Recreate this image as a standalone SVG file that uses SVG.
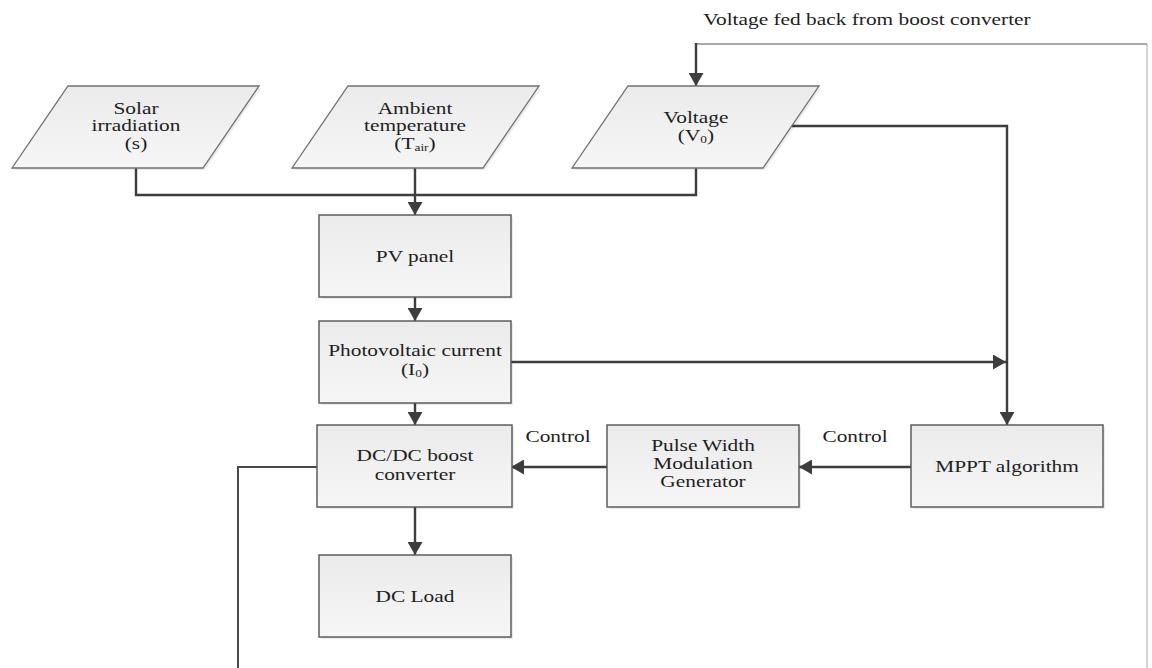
<svg xmlns="http://www.w3.org/2000/svg" width="1152" height="668" viewBox="0 0 1152 668">
  <defs>
    <linearGradient id="boxFill" x1="0" y1="0" x2="0" y2="1">
      <stop offset="0" stop-color="#ebebeb"/>
      <stop offset="1" stop-color="#f6f6f6"/>
    </linearGradient>
    <marker id="arrow" markerUnits="userSpaceOnUse" markerWidth="14" markerHeight="15" refX="13" refY="7.5" orient="auto">
      <path d="M0,0 L13,7.5 L0,15 z" fill="#3d3d3d"/>
    </marker>
    <style>
      .box { fill: url(#boxFill); stroke: #5e5e5e; stroke-width: 1.5; }
      .shadow { fill: #000; opacity: 0.08; }
      .io { fill: url(#boxFill); stroke: #707070; stroke-width: 1.3; }
      .link { fill: none; stroke: #3d3d3d; stroke-width: 2.4; }
      .feed { fill: none; stroke: #4a4a4a; stroke-width: 2; }
      .feed-light { fill: none; stroke: #8c8c8c; stroke-width: 1.5; }
      .feed-faint { fill: none; stroke: #c4c4c4; stroke-width: 1.5; }
      text { font-family: "Liberation Serif", "Times New Roman", serif; font-size: 17.5px; fill: #1e1e1e; text-anchor: middle; }
      .sub { font-size: 11px; }
    </style>
  </defs>

  <rect width="1152" height="668" fill="#ffffff"/>

  <!-- connectors -->
  <g id="connectors">
    <!-- inputs merge into the PV panel -->
    <polyline class="link" points="136,168 136,195 696,195 696,168"/>
    <line class="link" x1="415" y1="168" x2="415" y2="215" marker-end="url(#arrow)"/>
    <line class="link" x1="415" y1="297" x2="415" y2="321" marker-end="url(#arrow)"/>
    <line class="link" x1="415" y1="403" x2="415" y2="425" marker-end="url(#arrow)"/>
    <line class="link" x1="415" y1="507" x2="415" y2="555" marker-end="url(#arrow)"/>
    <!-- voltage and current into MPPT -->
    <polyline class="link" points="792,126 1007,126 1007,425" marker-end="url(#arrow)"/>
    <line class="link" x1="511" y1="362" x2="1006" y2="362" marker-end="url(#arrow)"/>
    <!-- control path -->
    <line class="link" x1="911" y1="467" x2="799" y2="467" marker-end="url(#arrow)"/>
    <line class="link" x1="607" y1="467" x2="511" y2="467" marker-end="url(#arrow)"/>
    <!-- voltage feedback loop -->
    <polyline class="feed" points="319,467 238,467 238,668"/>
    <line class="feed-faint" x1="1147" y1="668" x2="1147" y2="44"/>
    <line class="feed-light" x1="1147" y1="44" x2="696" y2="44"/>
    <line class="link" x1="696" y1="43" x2="696" y2="86" marker-end="url(#arrow)"/>
  </g>

  <text transform="matrix(1.22 0 0 1 867 25)" x="0" y="0">Voltage fed back from boost converter</text>

  <g id="solar">
    <polygon class="shadow" points="70,88 261,88 205,170 14,170"/>
    <polygon class="io" points="68,86 259,86 203,168 12,168"/>
    <text transform="matrix(1.22 0 0 1 136 0)" x="0" y="114">Solar</text>
    <text transform="matrix(1.22 0 0 1 136 0)" x="0" y="131.5">irradiation</text>
    <text transform="matrix(1.22 0 0 1 136 0)" x="0" y="149">(s)</text>
  </g>

  <g id="ambient">
    <polygon class="shadow" points="350,88 541,88 485,170 294,170"/>
    <polygon class="io" points="348,86 539,86 483,168 292,168"/>
    <text transform="matrix(1.22 0 0 1 415 0)" x="0" y="114">Ambient</text>
    <text transform="matrix(1.22 0 0 1 415 0)" x="0" y="131.5">temperature</text>
    <text transform="matrix(1.22 0 0 1 415 0)" x="0" y="149">(T<tspan class="sub" dy="2">air</tspan><tspan dy="-2">)</tspan></text>
  </g>

  <g id="voltage">
    <polygon class="shadow" points="630,88 821,88 765,170 574,170"/>
    <polygon class="io" points="628,86 819,86 763,168 572,168"/>
    <text transform="matrix(1.22 0 0 1 696 0)" x="0" y="123">Voltage</text>
    <text transform="matrix(1.22 0 0 1 696 0)" x="0" y="141.5">(V<tspan class="sub" dy="2">0</tspan><tspan dy="-2">)</tspan></text>
  </g>

  <g id="pv-panel">
    <rect class="shadow" x="321" y="217" width="192" height="82"/>
    <rect class="box" x="319" y="215" width="192" height="82"/>
    <text transform="matrix(1.22 0 0 1 415 0)" x="0" y="262">PV panel</text>
  </g>

  <g id="pv-current">
    <rect class="shadow" x="321" y="323" width="192" height="82"/>
    <rect class="box" x="319" y="321" width="192" height="82"/>
    <text transform="matrix(1.22 0 0 1 415 0)" x="0" y="356.5">Photovoltaic current</text>
    <text transform="matrix(1.22 0 0 1 415 0)" x="0" y="375">(I<tspan class="sub" dy="2">0</tspan><tspan dy="-2">)</tspan></text>
  </g>

  <g id="boost-converter">
    <rect class="shadow" x="320" y="427" width="194" height="82"/>
    <rect class="box" x="317" y="425" width="195" height="82"/>
    <text transform="matrix(1.22 0 0 1 415 0)" x="0" y="461.5">DC/DC boost</text>
    <text transform="matrix(1.22 0 0 1 415 0)" x="0" y="480">converter</text>
  </g>

  <g id="dc-load">
    <rect class="shadow" x="321" y="557" width="192" height="82"/>
    <rect class="box" x="319" y="555" width="192" height="82"/>
    <text transform="matrix(1.22 0 0 1 415 0)" x="0" y="602">DC Load</text>
  </g>

  <g id="pwm-generator">
    <rect class="shadow" x="609" y="427" width="192" height="82"/>
    <rect class="box" x="607" y="425" width="192" height="82"/>
    <text transform="matrix(1.22 0 0 1 703 0)" x="0" y="451.5">Pulse Width</text>
    <text transform="matrix(1.22 0 0 1 703 0)" x="0" y="469.5">Modulation</text>
    <text transform="matrix(1.22 0 0 1 703 0)" x="0" y="487.5">Generator</text>
  </g>

  <g id="mppt">
    <rect class="shadow" x="913" y="427" width="192" height="82"/>
    <rect class="box" x="911" y="425" width="192" height="82"/>
    <text transform="matrix(1.22 0 0 1 1007 0)" x="0" y="472">MPPT algorithm</text>
  </g>

  <g id="labels">
    <text transform="matrix(1.22 0 0 1 558 0)" x="0" y="442">Control</text>
    <text transform="matrix(1.22 0 0 1 855 0)" x="0" y="442">Control</text>
  </g>
</svg>
